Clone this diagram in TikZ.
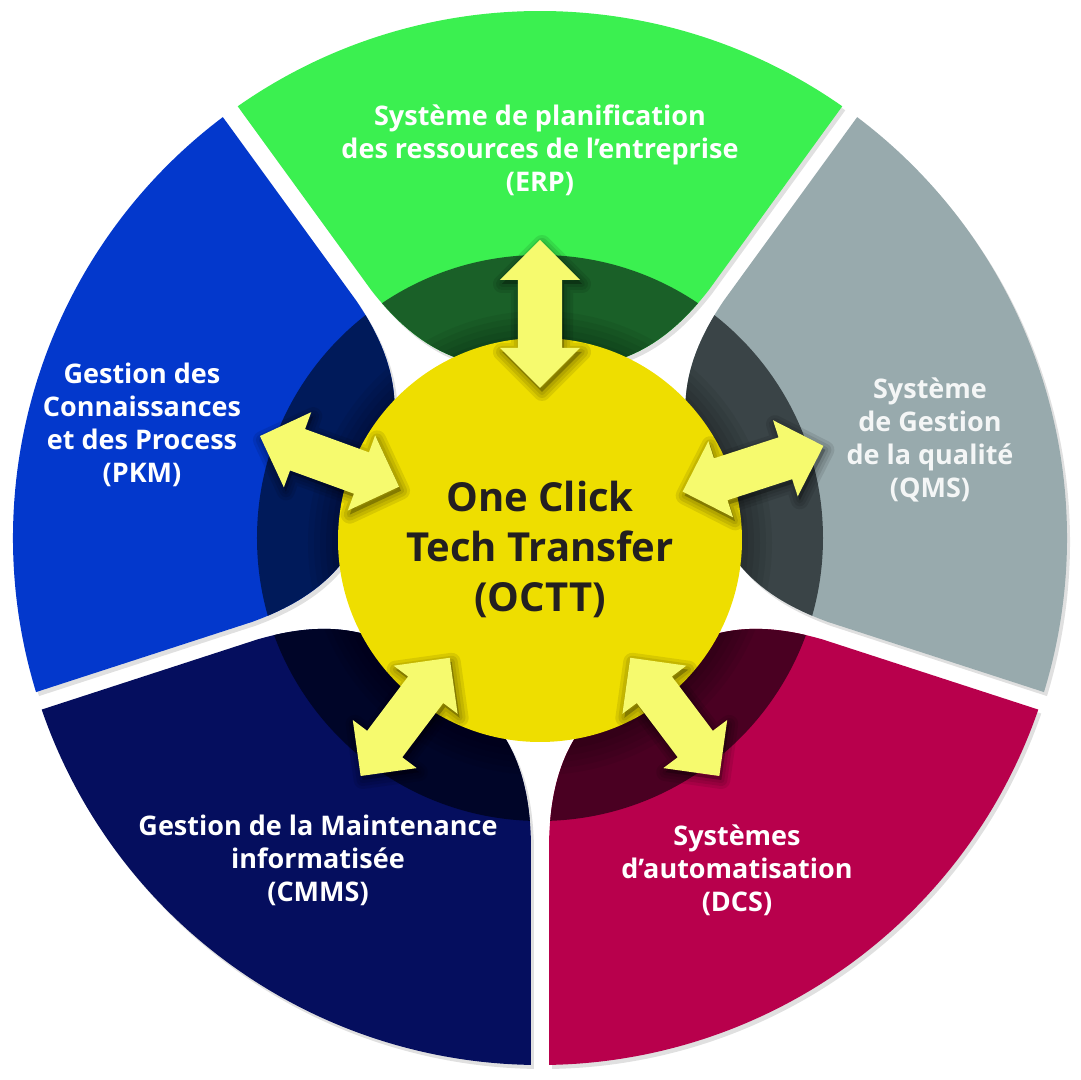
\documentclass[tikz,border=0pt]{standalone}
\usepackage{fontspec}
\setmainfont{Open Sans}
\usetikzlibrary{calc}

\definecolor{erpgreen}{HTML}{3BF050}
\definecolor{erpdark}{HTML}{1A6028}
\definecolor{pkmblue}{HTML}{0338CC}
\definecolor{pkmdark}{HTML}{001A5A}
\definecolor{qmsgray}{HTML}{98AAAD}
\definecolor{qmsdark}{HTML}{3A4447}
\definecolor{qmstext}{HTML}{F4F6F6}
\definecolor{cmmsnavy}{HTML}{050E5E}
\definecolor{cmmsdark}{HTML}{000528}
\definecolor{dcsred}{HTML}{B8004C}
\definecolor{dcsdark}{HTML}{4A0022}
\definecolor{octtyellow}{HTML}{EEDE00}
\definecolor{octttext}{HTML}{231F20}
\definecolor{arrowyellow}{HTML}{F6FA6E}

\newcommand\linkarrow[3][fill=arrowyellow]{%
  \path[#1] (#2) -- ($(#2)!20pt!(#3)!20pt!90:(#3)$) -- ($(#2)!20pt!(#3)!11pt!90:(#3)$)
    -- ($(#3)!20pt!(#2)!11pt!-90:(#2)$) -- ($(#3)!20pt!(#2)!20pt!-90:(#2)$) -- (#3)
    -- ($(#3)!20pt!(#2)!20pt!90:(#2)$) -- ($(#3)!20pt!(#2)!11pt!90:(#2)$)
    -- ($(#2)!20pt!(#3)!11pt!-90:(#3)$) -- ($(#2)!20pt!(#3)!20pt!-90:(#3)$) -- cycle;}

\begin{document}
\begin{tikzpicture}[x=0.5pt,y=0.5pt,
  sector/.style={insert path={({#1-35}:527) arc[start angle={#1-35}, end angle={#1+35}, radius=527]
    -- ({#1+34.25}:300) .. controls ({#1+33.5}:250) and ({#1+30}:215) .. ({#1+22}:190)
    arc[start angle={#1+22}, end angle={#1-22}, radius=190]
    .. controls ({#1-30}:215) and ({#1-33.5}:250) .. ({#1-34.25}:300) -- cycle}},
  sectorlabel/.style={text=white, align=center, font=\bfseries\fontsize{13.5}{16.5}\selectfont},
  hub/.style={circle, fill=octtyellow, minimum size=202pt, inner sep=0pt},
  hublabel/.style={text=octttext, align=center, font=\bfseries\fontsize{20}{25}\selectfont},
  glow/.style={draw=black, fill=black, line join=round, opacity=.09, line width=#1}]

\useasboundingbox (-540,-542) rectangle (541,538);

\foreach \c/\light/\dark in {90/erpgreen/erpdark, 162/pkmblue/pkmdark, 234/cmmsnavy/cmmsdark,
    306/dcsred/dcsdark, 18/qmsgray/qmsdark}{
  \fill[black, opacity=.12, shift={(3,-4)}] [sector=\c];
  \fill[\light] [sector=\c];
  \begin{scope}
    \clip [sector=\c];
    \fill[\dark] (0,0) circle[radius=283];
    \foreach \r in {232,226,...,204}{
      \fill[black, opacity=.06] (0,-5) circle[radius=\r];
    }
  \end{scope}
}

\node[hub] (octt) at (0,-2) {};
\node[hublabel] (octt-text) at ([yshift=-4.5pt]octt.center) {One Click\\Tech Transfer\\(OCTT)};

\node[sectorlabel] (erp) at (0,388) {Système de planification\\des ressources de l’entreprise\\(ERP)};
\node[sectorlabel] (pkm) at (-398,113) {Gestion des\\Connaissances\\et des Process\\(PKM)};
\node[sectorlabel, text=qmstext] (qms) at (390,98) {Système\\de Gestion\\de la qualité\\(QMS)};
\node[sectorlabel] (cmms) at (-222,-322) {Gestion de la Maintenance\\informatisée\\(CMMS)};
\node[sectorlabel] (dcs) at (197,-332) {Systèmes\\d’automatisation\\(DCS)};

\foreach \a/\n in {90/erp, 160/pkm, 18/qms, 233/cmms, 307/dcs}{
  \coordinate (\n-in) at (\a:150);
  \coordinate (\n-out) at (\a:298);
}

\foreach \n in {erp, pkm, qms, cmms, dcs}{
  \begin{scope}[transform canvas={shift={(1pt,-2pt)}}]
    \foreach \w in {9pt,6pt,3pt}{
      \linkarrow[glow=\w]{\n-in}{\n-out}
    }
  \end{scope}
  \linkarrow{\n-in}{\n-out}
}
\end{tikzpicture}
\end{document}
